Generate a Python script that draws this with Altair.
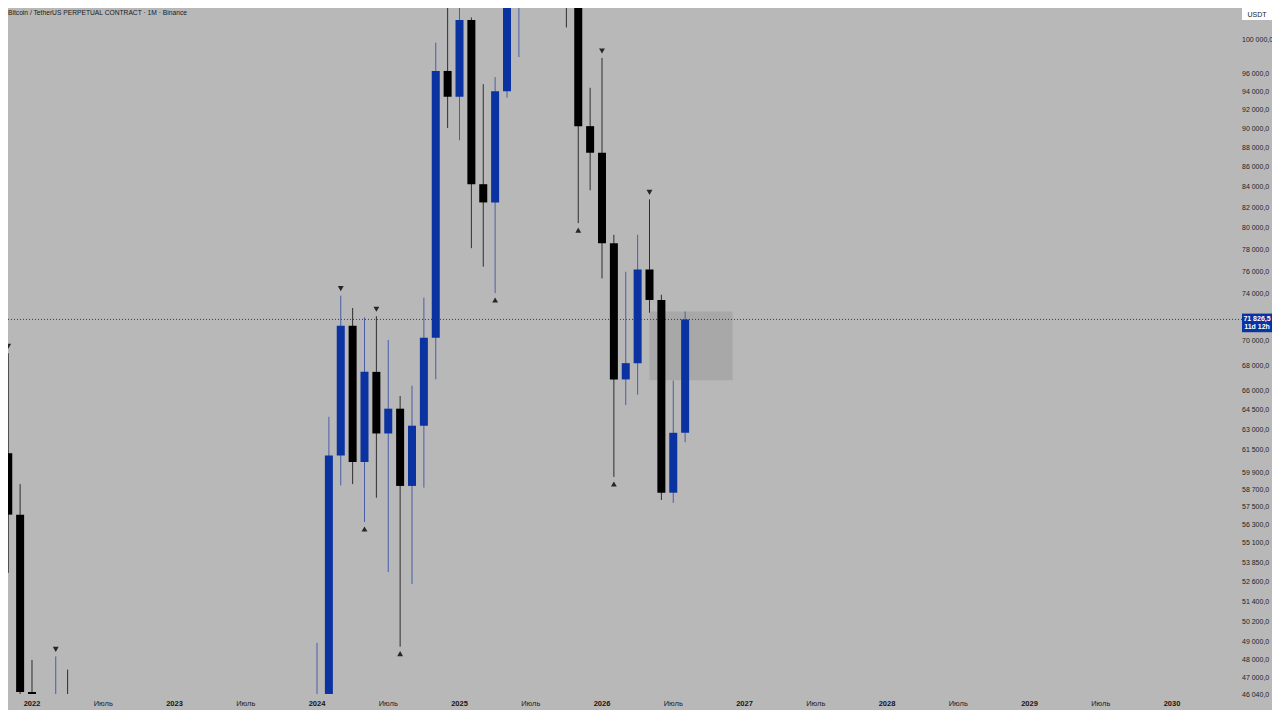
import altair as alt
import pandas as pd

# ---------------- data (monthly candles) ----------------
months = [
    "2021-11", "2021-12",
    "2022-01", "2022-02", "2022-03", "2022-04", "2022-05", "2022-06",
    "2022-07", "2022-08", "2022-09", "2022-10", "2022-11", "2022-12",
    "2023-01", "2023-02", "2023-03", "2023-04", "2023-05", "2023-06",
    "2023-07", "2023-08", "2023-09", "2023-10", "2023-11", "2023-12",
    "2024-01", "2024-02", "2024-03", "2024-04", "2024-05", "2024-06",
    "2024-07", "2024-08", "2024-09", "2024-10", "2024-11", "2024-12",
    "2025-01", "2025-02", "2025-03", "2025-04", "2025-05", "2025-06",
    "2025-07", "2025-08", "2025-09", "2025-10", "2025-11", "2025-12",
    "2026-01", "2026-02", "2026-03", "2026-04", "2026-05", "2026-06",
    "2026-07", "2026-08",
]
opens = [
    61300, 57000,
    46200, 38470, 43160, 45510, 37640, 31800,
    19940, 23300, 20050, 19420, 20490, 17160,
    16540, 23130, 23140, 28470, 29230, 27210,
    30470, 29230, 25930, 26960, 34640, 37720,
    42280, 42580, 61130, 71280, 60670, 67500,
    62750, 64620, 58970, 63330, 70290, 96400,
    93500, 102400, 84300, 82500, 94100, 104500,
    107100, 115750, 108250, 114050, 109600, 90300,
    87500, 78600, 66900, 68200, 76200, 73500,
    58500, 62800,
]
highs = [
    69000, 59100,
    47990, 45850, 48190, 47440, 40000, 31990,
    24670, 25210, 22800, 21090, 21480, 18390,
    23960, 25250, 29190, 31000, 29820, 31440,
    31800, 30230, 27490, 35000, 38450, 44750,
    48970, 64000, 73880, 72800, 72000, 72100,
    70100, 65600, 66400, 73700, 99700, 108350,
    109900, 102700, 94900, 95700, 111900, 110400,
    123200, 124500, 117900, 126200, 110700, 94500,
    97900, 79400, 76000, 79400, 82800, 73950,
    66800, 72500,
]
lows = [
    53200, 42000,
    32950, 34300, 37150, 37700, 26700, 17600,
    18780, 19540, 18130, 18190, 15480, 16260,
    16500, 21350, 19550, 26940, 25810, 24750,
    28860, 25150, 24900, 26550, 34100, 37610,
    38555, 41880, 59000, 59100, 56500, 58150,
    53250, 48750, 52500, 58850, 66900, 90100,
    88800, 78150, 76450, 74100, 93400, 98000,
    105100, 107250, 107250, 101500, 80500, 83700,
    75400, 59600, 64900, 65700, 72400, 58000,
    57800, 62100,
]
closes = [
    57000, 46200,
    38470, 43160, 45510, 37640, 31800, 19940,
    23300, 20050, 19420, 20490, 17160, 16540,
    23130, 23140, 28470, 29230, 27210, 30470,
    29230, 25930, 26960, 34640, 37720, 42280,
    42580, 61130, 71280, 60670, 67500, 62750,
    64620, 58970, 63330, 70290, 96400, 93500,
    102400, 84300, 82500, 94100, 104500, 107100,
    115750, 108250, 114050, 109600, 90300, 87500,
    78600, 66900, 68200, 76200, 73500, 58500,
    62800, 71826.5,
]

# swing markers
top_marker_months = ["2021-11", "2022-03", "2024-03", "2024-06", "2026-01", "2026-05"]
bottom_marker_months = ["2024-05", "2024-08", "2025-04", "2025-11", "2026-02"]

# shaded zone
zone_start, zone_end = "2026-05", "2026-12"
zone_low, zone_high = 66840, 72500

last_price = 71826.5
last_price_text = "71 826,5"
countdown_text = "11d 12h"
currency_text = "USDT"
title_text = "Bitcoin / TetherUS PERPETUAL CONTRACT · 1M · Binance"

# axis ticks
x_tick_vals = [0, 6, 12, 18, 24, 30, 36, 42, 48, 54, 60, 66, 72, 78, 84, 90, 96]
x_tick_labels = ["2022", "Июль", "2023", "Июль", "2024", "Июль", "2025", "Июль",
                 "2026", "Июль", "2027", "Июль", "2028", "Июль", "2029", "Июль", "2030"]
y_tick_vals = [100000, 96000, 94000, 92000, 90000, 88000, 86000, 84000, 82000,
               80000, 78000, 76000, 74000, 70000, 68000, 66000, 64500, 63000,
               61500, 59900, 58700, 57500, 56300, 55100, 53850, 52600, 51400,
               50200, 49000, 48000, 47000, 46040]
y_tick_labels = ["100 000,0", "96 000,0", "94 000,0", "92 000,0", "90 000,0",
                 "88 000,0", "86 000,0", "84 000,0", "82 000,0", "80 000,0",
                 "78 000,0", "76 000,0", "74 000,0", "70 000,0", "68 000,0",
                 "66 000,0", "64 500,0", "63 000,0", "61 500,0", "59 900,0",
                 "58 700,0", "57 500,0", "56 300,0", "55 100,0", "53 850,0",
                 "52 600,0", "51 400,0", "50 200,0", "49 000,0", "48 000,0",
                 "47 000,0", "46 040,0"]

# ---------------- styling ----------------
BG = "#b8b8b8"
UP = "#0a32a0"
DOWN = "#000000"
UP_WICK = "#4a5ea8"
DOWN_WICK = "#2e2e2e"
FONT = "Liberation Sans"
PLOT_W, PLOT_H = 1228, 686
RIGHT_PAD, BOTTOM_PAD = 36, 16
LABEL_X = PLOT_W + 6
BOX_X = PLOT_W + 21


def midx(s):
    y, m = s.split("-")
    return (int(y) - 2022) * 12 + int(m) - 1


df = pd.DataFrame({"month": months, "open": opens, "high": highs,
                   "low": lows, "close": closes})
df["m"] = df["month"].map(midx)
df["dir"] = ["up" if c >= o else "down" for o, c in zip(df["open"], df["close"])]

tops = df[df["month"].isin(top_marker_months)][["m", "high"]]
bots = df[df["month"].isin(bottom_marker_months)][["m", "low"]]
zone = pd.DataFrame({"m1": [midx(zone_start)], "m2": [midx(zone_end)],
                     "p1": [zone_low], "p2": [zone_high]})
last = pd.DataFrame({"price": [last_price], "t1": [last_price_text],
                     "t2": [countdown_text]})
misc = pd.DataFrame({"cur": [currency_text], "title": [title_text]})
xticks = pd.DataFrame({"v": x_tick_vals, "label": x_tick_labels,
                       "year": [i % 2 == 0 for i in range(len(x_tick_vals))]})
yticks = pd.DataFrame({"v": y_tick_vals, "label": y_tick_labels})

x_scale = alt.Scale(domain=[-2.021, 101.389], nice=False, zero=False, padding=0)
y_scale = alt.Scale(type="log", domain=[46091, 103862], nice=False, padding=0)


def X(f):
    return alt.X(f, scale=x_scale, axis=None)


def Y(f):
    return alt.Y(f, scale=y_scale, axis=None)


zone_layer = alt.Chart(zone).mark_rect(color="#a8a8a8", opacity=1).encode(
    x=X("m1:Q"), x2="m2:Q", y=Y("p1:Q"), y2="p2:Q")

dotted = alt.Chart(last).mark_rule(color="#3c3c3c", strokeDash=[1, 2],
                                   strokeWidth=1).encode(
    y=Y("price:Q"), x=alt.value(0), x2=alt.value(LABEL_X))

wicks = alt.Chart(df).mark_rule(strokeWidth=1, clip=True).encode(
    x=X("m:Q"), y=Y("low:Q"), y2="high:Q",
    color=alt.condition(alt.datum.dir == "up", alt.value(UP_WICK), alt.value(DOWN_WICK)))

bodies = alt.Chart(df).mark_bar(size=8, clip=True).encode(
    x=X("m:Q"), y=Y("open:Q"), y2="close:Q",
    color=alt.condition(alt.datum.dir == "up", alt.value(UP), alt.value(DOWN)))

tri_down = alt.Chart(tops).mark_point(shape="triangle-down", filled=True, size=34,
                                      color="#262626", opacity=1, yOffset=-7).encode(
    x=X("m:Q"), y=Y("high:Q"))

tri_up = alt.Chart(bots).mark_point(shape="triangle-up", filled=True, size=34,
                                    color="#262626", opacity=1, yOffset=7).encode(
    x=X("m:Q"), y=Y("low:Q"))

# price-axis labels (right side) and time-axis labels (bottom), via the scales
y_labels = alt.Chart(yticks).mark_text(fontSize=7, font=FONT, color="#1e1e1e",
                                       align="left", baseline="middle").encode(
    y=Y("v:Q"), x=alt.value(LABEL_X), text="label:N")

x_labels_year = alt.Chart(xticks).transform_filter(alt.datum.year).mark_text(
    fontSize=7.5, font=FONT, color="#141414", fontWeight="bold",
    align="center", baseline="middle").encode(
    x=X("v:Q"), y=alt.value(PLOT_H + 10), text="label:N")

x_labels_month = alt.Chart(xticks).transform_filter(~alt.datum.year).mark_text(
    fontSize=7.5, font=FONT, color="#1e1e1e",
    align="center", baseline="middle").encode(
    x=X("v:Q"), y=alt.value(PLOT_H + 10), text="label:N")

box_shape = "M-1,-0.62L1,-0.62L1,0.62L-1,0.62Z"
price_box = alt.Chart(last).mark_point(shape=box_shape, size=900, filled=True,
                                       color=UP, opacity=1, strokeWidth=0,
                                       yOffset=3.5).encode(
    y=Y("price:Q"), x=alt.value(BOX_X))
price_t1 = alt.Chart(last).mark_text(color="white", fontSize=7, fontWeight="bold",
                                     font=FONT, align="center", baseline="middle",
                                     yOffset=-0.5).encode(
    y=Y("price:Q"), x=alt.value(BOX_X), text="t1:N")
price_t2 = alt.Chart(last).mark_text(color="white", fontSize=7, fontWeight="bold",
                                     font=FONT, align="center", baseline="middle",
                                     yOffset=7.5).encode(
    y=Y("price:Q"), x=alt.value(BOX_X), text="t2:N")

usdt_shape = "M-1,-0.4L1,-0.4L1,0.4L-1,0.4Z"
usdt_box = alt.Chart(misc).mark_point(shape=usdt_shape, size=900, filled=True,
                                      color="#ffffff", opacity=1,
                                      strokeWidth=0).encode(
    x=alt.value(BOX_X), y=alt.value(6))
usdt_text = alt.Chart(misc).mark_text(color="#222222", fontSize=7, font=FONT,
                                      align="center", baseline="middle").encode(
    x=alt.value(BOX_X), y=alt.value(6.5), text="cur:N")

title = alt.Chart(misc).mark_text(color="#1a1a1a", fontSize=6.7, font=FONT,
                                  align="left", baseline="middle").encode(
    x=alt.value(0), y=alt.value(5), text="title:N")

chart = alt.layer(
    zone_layer, dotted, wicks, bodies, tri_down, tri_up,
    y_labels, x_labels_year, x_labels_month,
    price_box, price_t1, price_t2, usdt_box, usdt_text, title,
).properties(
    width=PLOT_W, height=PLOT_H,
    autosize=alt.AutoSizeParams(type="none"),
    padding={"left": 0, "top": 0, "right": RIGHT_PAD, "bottom": BOTTOM_PAD},
    background=BG,
).configure_view(stroke=None, fill=BG)

chart.save("out.html", embed_options={"renderer": "svg", "actions": False})
